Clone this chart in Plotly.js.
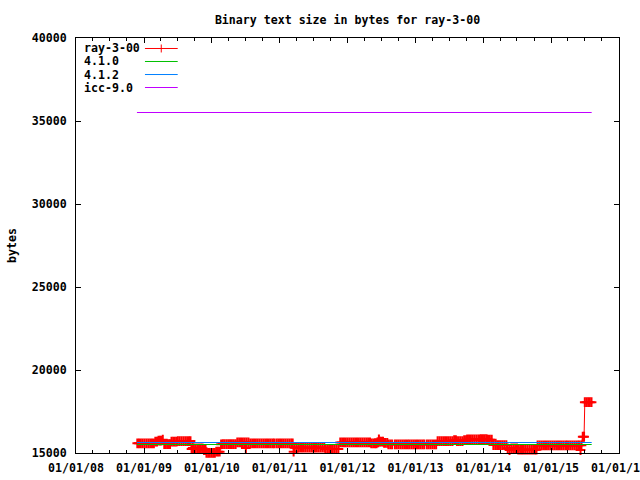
<!DOCTYPE html>
<html>
<head>
<meta charset="utf-8">
<script src="https://cdn.plot.ly/plotly-3.0.1.min.js"></script>
<style>html,body{margin:0;padding:0;background:#fff;}#chart{width:640px;height:480px;}</style>
</head>
<body>
<div id="chart"></div>
<script>
// ---- data ----
var rayDates = [
'2008-11-26','2008-12-05','2008-12-15','2008-12-25','2009-01-04','2009-01-14','2009-01-24','2009-02-03','2009-02-13','2009-02-23',
'2009-03-03','2009-03-12',
'2009-03-20','2009-03-28','2009-04-05',
'2009-04-12',
'2009-04-20','2009-04-28','2009-05-06','2009-05-14','2009-05-21',
'2009-05-29','2009-06-07','2009-06-16','2009-06-25',
'2009-07-02','2009-07-12','2009-07-22','2009-08-01','2009-08-11','2009-08-21','2009-08-31','2009-09-08',
'2009-09-14','2009-09-20',
'2009-09-26','2009-10-04','2009-10-14','2009-10-24','2009-11-03','2009-11-12',
'2009-11-20','2009-11-28',
'2009-12-03','2009-12-12','2009-12-21','2009-12-30','2010-01-08','2010-01-17',
'2010-01-25','2010-02-03','2010-02-12',
'2010-02-20',
'2010-03-01','2010-03-10','2010-03-20','2010-03-30','2010-04-09','2010-04-19','2010-04-29','2010-05-09',
'2010-05-18','2010-05-28','2010-06-07','2010-06-17','2010-06-27',
'2010-07-03',
'2010-07-07','2010-07-17',
'2010-07-27','2010-08-06','2010-08-16','2010-08-26','2010-09-05','2010-09-15','2010-09-25','2010-10-05','2010-10-15','2010-10-25','2010-11-04','2010-11-14','2010-11-24','2010-12-02',
'2010-12-14','2010-12-24','2011-01-03','2011-01-13','2011-01-23','2011-02-02','2011-02-12','2011-02-22','2011-03-04','2011-03-12',
'2011-03-17',
'2011-03-22','2011-04-01','2011-04-11','2011-04-21','2011-05-01','2011-05-11','2011-05-21','2011-05-31','2011-06-10','2011-06-20','2011-06-30','2011-07-10','2011-07-20','2011-07-30','2011-08-09','2011-08-19','2011-08-29',
'2011-09-04','2011-09-14','2011-09-24','2011-10-04','2011-10-14','2011-10-24','2011-11-03','2011-11-13',
'2011-11-23','2011-12-03','2011-12-13','2011-12-23','2012-01-02','2012-01-12','2012-01-22','2012-02-01','2012-02-11','2012-02-21','2012-03-02','2012-03-12','2012-03-22','2012-04-01','2012-04-11','2012-04-21','2012-05-01',
'2012-05-08','2012-05-18','2012-05-28','2012-06-05',
'2012-06-10','2012-06-15',
'2012-06-18',
'2012-06-24','2012-07-02','2012-07-10',
'2012-07-16','2012-07-24','2012-08-02',
'2012-08-08','2012-08-18','2012-08-28',
'2012-09-12','2012-09-22','2012-10-02','2012-10-12','2012-10-22','2012-11-01','2012-11-11','2012-11-21','2012-11-30',
'2012-12-10','2012-12-20','2012-12-30','2013-01-09','2013-01-19','2013-01-29','2013-02-08','2013-02-17',
'2013-03-03','2013-03-13','2013-03-23','2013-04-02','2013-04-12','2013-04-22',
'2013-04-30','2013-05-10','2013-05-20','2013-05-30','2013-06-09','2013-06-19','2013-06-29','2013-07-09','2013-07-19',
'2013-07-28','2013-08-06',
'2013-08-12','2013-08-22','2013-09-01','2013-09-11',
'2013-09-20','2013-09-30',
'2013-10-06','2013-10-16','2013-10-26','2013-11-05','2013-11-15','2013-11-25','2013-12-05','2013-12-13',
'2013-12-20','2013-12-30','2014-01-09','2014-01-18',
'2014-01-26','2014-02-05','2014-02-15',
'2014-02-24','2014-03-06','2014-03-16','2014-03-26','2014-04-05','2014-04-15','2014-04-25','2014-05-05',
'2014-05-12','2014-05-22','2014-06-01','2014-06-11','2014-06-21','2014-07-01',
'2014-07-08','2014-07-18','2014-07-28','2014-08-07','2014-08-17','2014-08-27','2014-09-06','2014-09-16','2014-09-26','2014-10-06','2014-10-14',
'2014-10-20','2014-10-30','2014-11-09','2014-11-19','2014-11-29','2014-12-09','2014-12-19','2014-12-29','2015-01-08','2015-01-18','2015-01-28','2015-02-07','2015-02-17','2015-02-27','2015-03-09','2015-03-19','2015-03-27',
'2015-04-06','2015-04-16','2015-04-26','2015-05-06','2015-05-16','2015-05-26','2015-06-03','2015-06-08','2015-06-13',
'2015-06-20','2015-06-27',
'2015-07-01','2015-07-10','2015-07-19','2015-07-28','2015-08-06'
];
var rayBytes = [
15580,15580,15580,15580,15580,15580,15580,15580,15580,15580,
15680,15680,
15740,15740,15740,
15800,
15540,15540,15540,15540,15540,
15680,15680,15680,15680,
15720,15720,15720,15720,15720,15720,15720,15720,
15240,15300,
15280,15280,15280,15280,15280,15280,
15180,15180,
15010,15010,15010,15010,15010,15010,
15080,15080,15080,
15520,
15540,15540,15540,15540,15540,15540,15540,15540,
15640,15640,15640,15640,15640,
15300,
15640,15640,
15580,15580,15580,15580,15580,15580,15580,15580,15580,15580,15580,15580,15580,15580,
15580,15580,15580,15580,15580,15580,15580,15580,15580,15580,
15080,
15320,15320,15320,15320,15320,15320,15320,15320,15320,15320,15320,15320,15320,15320,15320,15320,15320,
15240,15240,15240,15240,15240,15240,15240,15240,
15640,15640,15640,15640,15640,15640,15640,15640,15640,15640,15640,15640,15640,15640,15640,15640,15640,
15580,15580,15580,15580,
15640,15640,
15820,
15680,15680,15680,
15610,15610,15610,
15520,15520,15520,
15520,15520,15520,15520,15520,15520,15520,15520,15520,
15520,15520,15520,15520,15520,15520,15520,15520,
15520,15520,15520,15520,15520,15520,
15720,15720,15720,15720,15720,15720,15720,15720,15720,
15780,15780,
15720,15720,15720,15720,
15780,15780,
15820,15820,15820,15820,15820,15820,15820,15820,
15840,15840,15840,15840,
15800,15800,15800,
15480,15480,15480,15480,15480,15480,15480,15480,
15280,15180,15280,15280,15280,15280,
15200,15200,15200,15200,15200,15200,15200,15200,15200,15200,15200,
15460,15460,15460,15460,15460,15460,15460,15460,15460,15460,15460,15460,15460,15460,15460,15460,15460,
15460,15460,15460,15460,15460,15460,15460,15180,15460,
15980,15980,
18060,18060,18060,18060,18060
];
var refDates = ['2008-11-24','2015-08-07'];
var gcc410Bytes = [15512,15512];
var gcc412Bytes = [15632,15632];
var icc90Bytes  = [35512,35512];
var seriesNames = ['ray-3-00','4.1.0','4.1.2','icc-9.0'];
var seriesColors = ['#ff0000','#00c000','#0080ff','#c000ff'];
var xRange = ['2008-01-01','2016-01-01'];
var yRange = [15000,40000];

// ---- chart ----
var FONT = 'DejaVu Sans Mono, Liberation Mono, monospace';
var traces = [
  {x: rayDates, y: rayBytes, type:'scatter', mode:'lines+markers', name: seriesNames[0],
   line:{color:seriesColors[0], width:1}, cliponaxis:false,
   marker:{symbol:'cross-thin', size:7, color:seriesColors[0], line:{color:seriesColors[0], width:2}}},
  {x: refDates, y: gcc410Bytes, type:'scatter', mode:'lines', name: seriesNames[1], line:{color:seriesColors[1], width:1}},
  {x: refDates, y: gcc412Bytes, type:'scatter', mode:'lines', name: seriesNames[2], line:{color:seriesColors[2], width:1}},
  {x: refDates, y: icc90Bytes, type:'scatter', mode:'lines', name: seriesNames[3], line:{color:seriesColors[3], width:1}}
];

// manual gnuplot-style key: text left, sample right
var keyRows = [0.9747, 0.9434, 0.9120, 0.8807];
var annotations = [];
var shapes = [];
for (var i = 0; i < seriesNames.length; i++) {
  annotations.push({xref:'paper', yref:'paper', x:0.0105, y:keyRows[i], xanchor:'left', yanchor:'middle',
    text: seriesNames[i], showarrow:false, font:{family:FONT, size:11.6, color:'#000', weight:'bold'}});
  shapes.push({type:'line', xref:'paper', yref:'paper', x0:0.127, x1:0.1873, y0:keyRows[i], y1:keyRows[i],
    line:{color:seriesColors[i], width:1}});
}
shapes.push({type:'line', xref:'paper', yref:'paper', x0:0.1570, x1:0.1570, y0:keyRows[0]-0.0096, y1:keyRows[0]+0.0096,
  line:{color:seriesColors[0], width:1}});

var layout = {
  width:640, height:480,
  margin:{l:76, r:21, t:38, b:27, pad:0},
  paper_bgcolor:'#fff', plot_bgcolor:'#fff',
  showlegend:false,
  title:{text:'Binary text size in bytes for ray-3-00', x:0.5, xref:'paper', y:0.958, yref:'container',
         xanchor:'center', yanchor:'middle', font:{family:FONT, size:11.6, color:'#000', weight:'bold'}},
  xaxis:{type:'date', range:xRange, tick0:'2008-01-01', dtick:'M12', tickformat:'%m/%d/%y',
         ticks:'inside', ticklen:5, tickwidth:1, tickcolor:'#000',
         showline:true, linecolor:'#000', linewidth:1, mirror:'allticks',
         showgrid:false, zeroline:false, ticklabeloverflow:'allow',
         minor:{dtick:'M3', ticks:'inside', ticklen:3, tickwidth:1, tickcolor:'#000', showgrid:false},
         tickfont:{family:FONT, size:11.6, color:'#000', weight:'bold'}, ticklabelstandoff:4},
  yaxis:{range:yRange, tick0:15000, dtick:5000, tickformat:'d',
         ticks:'inside', ticklen:5, tickwidth:1, tickcolor:'#000',
         showline:true, linecolor:'#000', linewidth:1, mirror:'allticks',
         showgrid:false, zeroline:false,
         tickfont:{family:FONT, size:11.6, color:'#000', weight:'bold'}, ticklabelstandoff:6,
         title:{text:'bytes', standoff:12, font:{family:FONT, size:11.6, color:'#000', weight:'bold'}}},
  annotations: annotations,
  shapes: shapes
};
Plotly.newPlot('chart', traces, layout, {staticPlot:true, displayModeBar:false});
</script>
</body>
</html>
